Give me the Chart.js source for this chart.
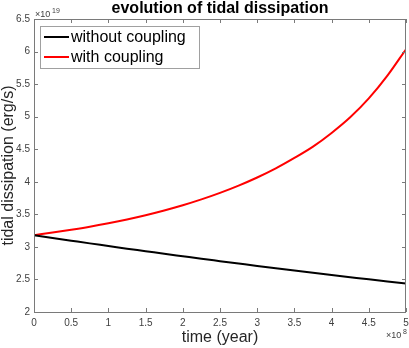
<!DOCTYPE html>
<html>
<head>
<meta charset="utf-8">
<script src="https://cdn.jsdelivr.net/npm/chart.js@4.4.1/dist/chart.umd.min.js"></script>
<style>
  html, body { margin: 0; padding: 0; background: #fff; }
  #wrap { width: 409px; height: 348px; position: relative; }
</style>
</head>
<body>
<div id="wrap"><canvas id="tidalChart"></canvas></div>
<script>
// time in units of 1e8 years, dissipation in units of 1e19 erg/s
const timeValues = [0, 0.25, 0.5, 0.75, 1, 1.25, 1.5, 1.75, 2, 2.25, 2.5, 2.75, 3, 3.25, 3.5, 3.75, 4, 4.25, 4.5, 4.75, 5];
const withoutCoupling = [3.180, 3.138, 3.096, 3.054, 3.014, 2.973, 2.934, 2.894, 2.856, 2.818, 2.781, 2.744, 2.707, 2.672, 2.637, 2.602, 2.568, 2.535, 2.502, 2.470, 2.438];
const withCoupling = [3.180, 3.220, 3.263, 3.310, 3.363, 3.421, 3.486, 3.559, 3.639, 3.729, 3.829, 3.941, 4.066, 4.206, 4.366, 4.540, 4.750, 4.990, 5.280, 5.630, 6.036];
const seriesNames = ['without coupling', 'with coupling'];
const seriesColors = ['#000000', '#ff0000'];
const xTicks = [0, 0.5, 1, 1.5, 2, 2.5, 3, 3.5, 4, 4.5, 5];
const yTicks = [2, 2.5, 3, 3.5, 4, 4.5, 5, 5.5, 6, 6.5];

const FONT = 'Liberation Sans, Arial, Helvetica, sans-serif';

function toPoints(ys) {
    return timeValues.map((t, i) => ({ x: t, y: ys[i] }));
}

// cadre + graduations vers l'intérieur, titre, exposants, légende
const matlabLook = {
    id: 'matlabLook',
    afterDraw(chart) {
        const ctx = chart.ctx;
        const a = chart.chartArea;
        const xs = chart.scales.x;
        const ys = chart.scales.y;
        ctx.save();

        ctx.strokeStyle = '#7a7a7a';
        ctx.lineWidth = 1;
        ctx.beginPath();
        xTicks.forEach(v => {
            const px = Math.round(xs.getPixelForValue(v)) + 0.5;
            ctx.moveTo(px, a.bottom); ctx.lineTo(px, a.bottom - 4);
            ctx.moveTo(px, a.top); ctx.lineTo(px, a.top + 4);
        });
        yTicks.forEach(v => {
            const py = Math.round(ys.getPixelForValue(v)) + 0.5;
            ctx.moveTo(a.left, py); ctx.lineTo(a.left + 4, py);
            ctx.moveTo(a.right, py); ctx.lineTo(a.right - 4, py);
        });
        ctx.stroke();
        ctx.strokeRect(Math.round(a.left) + 0.5, Math.round(a.top) + 0.5,
            Math.round(a.right - a.left) - 1, Math.round(a.bottom - a.top));

        // titre
        ctx.fillStyle = '#000';
        ctx.font = 'bold 16px ' + FONT;
        ctx.textAlign = 'center';
        ctx.textBaseline = 'middle';
        ctx.fillText('evolution of tidal dissipation', (a.left + a.right) / 2, 9);

        // étiquettes des axes
        ctx.fillStyle = '#262626';
        ctx.font = '16px ' + FONT;
        ctx.fillText('time (year)', (a.left + a.right) / 2, 338);
        ctx.save();
        ctx.translate(9, (a.top + a.bottom) / 2);
        ctx.rotate(-Math.PI / 2);
        ctx.fillText('tidal dissipation (erg/s)', 0, 0);
        ctx.restore();

        // exposants
        ctx.fillStyle = '#404040';
        ctx.textAlign = 'left';
        ctx.textBaseline = 'alphabetic';
        ctx.font = '9px ' + FONT;
        ctx.fillText('\u00d710', a.left + 1, 17);
        ctx.font = '7px ' + FONT;
        ctx.fillText('19', a.left + 18, 13);
        ctx.font = '9px ' + FONT;
        ctx.fillText('\u00d710', 386, 338);
        ctx.font = '7px ' + FONT;
        ctx.fillText('8', 403, 334);

        // légende
        const lx = 40, ly = 26, lw = 159, lh = 42;
        ctx.fillStyle = '#fff';
        ctx.fillRect(lx, ly, lw, lh);
        ctx.strokeStyle = '#a0a0a0';
        ctx.lineWidth = 1;
        ctx.strokeRect(lx + 0.5, ly + 0.5, lw, lh);
        ctx.font = '16px ' + FONT;
        ctx.textBaseline = 'middle';
        seriesNames.forEach((name, i) => {
            const yy = ly + 11 + i * 20;
            ctx.strokeStyle = seriesColors[i];
            ctx.lineWidth = 2;
            ctx.beginPath();
            ctx.moveTo(lx + 4, yy); ctx.lineTo(lx + 29, yy);
            ctx.stroke();
            ctx.fillStyle = '#000';
            ctx.fillText(name, lx + 31, yy + 1);
        });
        ctx.restore();
    }
};

const ctx = document.getElementById('tidalChart').getContext('2d');
new Chart(ctx, {
    type: 'line',
    data: {
        datasets: [
            { label: seriesNames[0], data: toPoints(withoutCoupling), borderColor: seriesColors[0], borderWidth: 2, pointRadius: 0, cubicInterpolationMode: 'monotone', fill: false },
            { label: seriesNames[1], data: toPoints(withCoupling), borderColor: seriesColors[1], borderWidth: 2, pointRadius: 0, cubicInterpolationMode: 'monotone', fill: false }
        ]
    },
    options: {
        responsive: true,
        maintainAspectRatio: false,
        animation: false,
        layout: { padding: { top: 19, right: 3, left: 0, bottom: 0 } },
        plugins: { legend: { display: false }, title: { display: false }, tooltip: { enabled: false } },
        scales: {
            x: {
                type: 'linear',
                min: 0, max: 5,
                afterFit(scale) {
                    scale.height = 36;
                    scale.paddingLeft = 0;
                    scale.paddingRight = 0;
                },
                afterBuildTicks(scale) { scale.ticks = xTicks.map(v => ({ value: v })); },
                grid: { display: false, drawTicks: false, tickLength: 0 },
                border: { display: false },
                ticks: { color: '#404040', font: { family: FONT, size: 10 }, padding: 5, maxRotation: 0, autoSkip: false,
                    callback: v => String(v) }
            },
            y: {
                type: 'linear',
                min: 2, max: 6.5,
                afterFit(scale) {
                    scale.width = 34;
                    scale.paddingTop = 0;
                    scale.paddingBottom = 0;
                },
                afterBuildTicks(scale) { scale.ticks = yTicks.map(v => ({ value: v })); },
                grid: { display: false, drawTicks: false, tickLength: 0 },
                border: { display: false },
                ticks: { color: '#404040', font: { family: FONT, size: 10 }, padding: 4, autoSkip: false,
                    callback: v => String(v) }
            }
        }
    },
    plugins: [matlabLook]
});
</script>
</body>
</html>
